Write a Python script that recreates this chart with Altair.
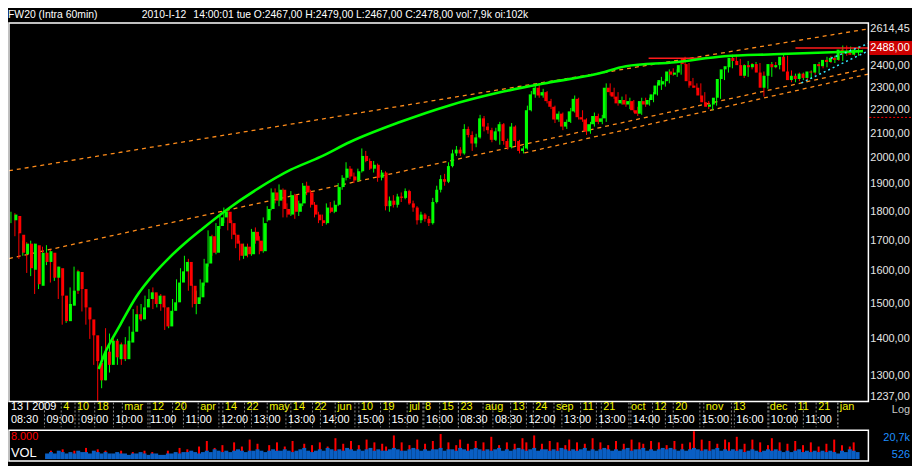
import altair as alt
import pandas as pd

# ---------------- data ----------------
opens = [1770,1785,1720,1655,1690,1605,1685,1555,1660,1630,
         1660,1580,1610,1525,1450,1495,1540,1598,1545,1490,
         1455,1410,1335,1290,1365,1330,1395,1345,1385,1345,
         1390,1420,1470,1455,1490,1515,1535,1500,1525,1490,
         1435,1480,1505,1565,1600,1630,1555,1500,1520,1565,
         1625,1715,1660,1750,1780,1800,1760,1720,1690,1650,
         1680,1655,1730,1700,1665,1770,1810,1870,1840,1880,
         1810,1790,1860,1800,1830,1895,1870,1825,1790,1770,
         1760,1815,1800,1825,1890,1925,1960,1930,1915,1950,
         2010,1990,1960,1975,1925,1945,1820,1840,1825,1855,
         1850,1875,1830,1815,1770,1790,1775,1760,1835,1880,
         1920,1910,1970,2020,2035,2020,2120,2095,2060,2085,
         2165,2130,2115,2075,2110,2140,2070,2045,2130,2070,
         2030,2040,2200,2270,2300,2265,2280,2240,2215,2160,
         2185,2130,2150,2195,2250,2170,2160,2110,2140,2175,
         2150,2165,2300,2280,2260,2230,2245,2225,2240,2200,
         2185,2240,2225,2245,2270,2310,2315,2330,2375,2360,
         2370,2435,2410,2330,2310,2300,2265,2235,2215,2225,
         2255,2340,2385,2395,2440,2425,2405,2355,2405,2395,
         2410,2370,2300,2355,2410,2395,2405,2445,2375,2335,
         2355,2340,2365,2345,2375,2370,2410,2400,2430,2420,
         2440,2430,2480,2460,2470,2455,2467]
highs = [1800,1795,1728,1700,1695,1700,1690,1675,1680,1685,
         1670,1625,1615,1530,1510,1550,1615,1605,1550,1500,
         1465,1415,1345,1380,1430,1415,1405,1400,1390,1405,
         1435,1485,1495,1500,1525,1545,1550,1530,1530,1495,
         1490,1515,1575,1610,1650,1640,1560,1540,1575,1640,
         1735,1720,1760,1790,1815,1805,1770,1725,1700,1690,
         1690,1740,1745,1715,1780,1820,1885,1885,1900,1885,
         1830,1875,1865,1840,1905,1910,1880,1835,1800,1790,
         1830,1835,1840,1905,1935,1985,1970,1945,1960,2040,
         2030,2000,1990,1980,1955,1950,1855,1860,1865,1870,
         1885,1880,1840,1820,1800,1795,1785,1850,1895,1935,
         1940,1985,2035,2050,2045,2140,2130,2110,2100,2180,
         2175,2145,2125,2125,2150,2145,2080,2145,2135,2075,
         2050,2220,2285,2320,2315,2295,2285,2250,2220,2195,
         2190,2160,2210,2265,2255,2200,2165,2150,2190,2185,
         2180,2320,2320,2300,2280,2260,2270,2255,2245,2215,
         2255,2255,2255,2280,2325,2350,2340,2385,2390,2385,
         2415,2445,2415,2345,2320,2320,2280,2240,2235,2265,
         2355,2395,2410,2455,2455,2435,2410,2425,2415,2420,
         2415,2375,2365,2420,2420,2415,2455,2450,2380,2365,
         2370,2370,2370,2380,2385,2420,2420,2445,2450,2450,
         2450,2500,2500,2495,2490,2495,2479]
lows = [1760,1715,1640,1650,1595,1585,1530,1545,1615,1620,
        1565,1570,1515,1440,1445,1490,1535,1530,1478,1440,
        1400,1330,1237,1270,1290,1310,1335,1330,1330,1340,
        1385,1415,1445,1450,1480,1505,1485,1490,1480,1425,
        1430,1470,1500,1555,1575,1540,1490,1470,1510,1555,
        1615,1650,1655,1740,1760,1735,1705,1675,1635,1640,
        1645,1650,1690,1655,1660,1765,1805,1830,1820,1780,
        1780,1785,1775,1785,1820,1860,1815,1780,1760,1750,
        1755,1795,1795,1820,1880,1915,1920,1905,1910,1945,
        1985,1955,1945,1910,1915,1805,1800,1815,1815,1835,
        1845,1825,1800,1755,1760,1765,1750,1755,1830,1870,
        1895,1905,1965,2010,2010,2015,2085,2030,2045,2080,
        2110,2100,2065,2070,2055,2055,2035,2040,2050,2020,
        2020,2035,2195,2255,2255,2255,2230,2205,2145,2150,
        2115,2120,2145,2190,2160,2150,2095,2100,2130,2140,
        2140,2150,2265,2250,2220,2225,2215,2205,2190,2175,
        2180,2215,2220,2235,2265,2290,2305,2320,2355,2350,
        2360,2405,2300,2300,2290,2250,2225,2205,2200,2220,
        2250,2335,2370,2390,2415,2400,2345,2350,2385,2385,
        2360,2260,2295,2350,2390,2385,2400,2365,2325,2325,
        2330,2335,2335,2340,2360,2365,2390,2395,2415,2415,
        2425,2425,2450,2455,2450,2450,2467]
closes = [1790,1725,1660,1690,1610,1690,1560,1660,1630,1665,
          1580,1615,1525,1450,1500,1540,1600,1545,1490,1455,
          1410,1340,1290,1365,1330,1395,1350,1385,1345,1395,
          1420,1470,1455,1490,1515,1535,1500,1525,1490,1435,
          1480,1505,1565,1600,1630,1555,1500,1520,1565,1625,
          1715,1660,1750,1780,1800,1760,1720,1690,1650,1680,
          1655,1730,1700,1665,1760,1810,1870,1840,1880,1810,
          1790,1860,1800,1830,1895,1870,1825,1790,1770,1760,
          1815,1800,1825,1890,1925,1960,1930,1915,1950,2010,
          1990,1960,1975,1925,1945,1820,1840,1825,1855,1850,
          1875,1830,1815,1770,1790,1775,1760,1835,1880,1920,
          1910,1970,2020,2035,2020,2120,2095,2060,2085,2165,
          2130,2115,2075,2110,2140,2070,2045,2130,2070,2030,
          2040,2200,2270,2300,2265,2280,2240,2215,2160,2185,
          2130,2150,2195,2250,2170,2160,2110,2140,2175,2150,
          2165,2300,2280,2260,2230,2245,2225,2240,2200,2185,
          2240,2225,2245,2270,2310,2335,2330,2375,2360,2370,
          2405,2410,2330,2310,2300,2265,2235,2215,2225,2255,
          2340,2385,2400,2440,2425,2405,2355,2405,2395,2410,
          2370,2300,2355,2410,2395,2405,2445,2375,2335,2355,
          2340,2365,2345,2375,2370,2410,2400,2430,2420,2440,
          2430,2480,2460,2470,2455,2480,2478]

# volume panel (thousands), first bar with volume
vol_start = 8
vol_blue = [4,5,4,6,5,4,5,4,6,5, 5,4,6,5,4,5,4,4,5,4, 4,3,4,4,5,4,3,4,4,3,
            3,4,4,5,4,5,5,6,5,4, 5,6,5,7,6,5,6,5,6,7, 6,5,6,6,7,6,5,6,7,6,
            6,7,6,5,6,7,8,6,5,6, 7,6,8,7,6,7,6,8,7,6, 7,6,7,8,6,7,6,6,7,8,
            7,6,6,7,8,7,6,7,6,7, 7,8,6,7,7,6,8,7,6,7, 8,7,6,7,6,7,8,6,7,6,
            7,8,7,6,7,8,6,7,7,6, 7,6,8,7,6,7,6,7,8,6, 7,6,7,8,7,6,7,6,7,8,
            6,7,7,8,6,7,6,7,8,7, 8,7,6,7,6,7,8,7,6,7, 6,7,8,6,7,6,7,6,7,5,
            6,7,6,5,6,7,6,7,6,5, 6,5,6,7,5,6,5,6,5,6, 5,6,5,4,6,5,7,6,5]
vol_red = [0,6,0,0,7,0,0,6,0,0, 8,0,0,7,0,6,0,0,0,6, 0,0,5,0,0,6,0,5,0,0,
           0,6,0,0,8,0,7,0,0,9, 0,13,0,8,0,10,0,0,12,0, 9,0,14,0,11,0,0,10,0,12,
           0,9,0,13,0,0,11,0,10,0, 12,0,9,0,15,0,11,0,13,0, 10,0,14,0,12,0,11,9,0,17,
           0,12,0,10,0,14,0,11,0,13, 0,18,0,12,0,10,14,0,11,0, 13,0,12,0,16,0,10,0,12,0,
           11,0,15,12,0,17,0,11,0,13, 0,12,0,10,14,0,12,0,11,0, 15,0,12,0,10,0,13,0,11,0,
           14,0,12,11,0,13,0,12,0,10, 0,13,0,11,0,12,20,0,14,0, 13,0,11,0,14,12,0,16,0,11,
           0,14,0,12,0,10,15,0,12,0, 11,0,13,0,10,0,12,0,9,0, 11,0,14,0,10,0,9,12,0]
vol_max_label = "20,7k"
vol_min_label = "526"
vol_scale_label = "8.000"

# channel lines (bar index, price)
chan_id = ["top", "top", "mid", "mid", "low", "low"]
chan_idx = [-0.5, 217.5, -0.5, 217.5, 130.25, 217.5]
chan_price = [1952, 2584, 1641, 2391, 2022, 2363]

# green regression curve
curve_idx = [22.25, 23.5, 27.75, 31.75, 36, 40.25, 44.25, 48.5, 54.25, 62.75, 71, 78.5,
             86, 98.5, 111, 123.5, 136, 148.5, 156, 168.5, 181, 193.5, 216]
curve_price = [1319, 1353, 1440, 1521, 1588, 1645, 1693, 1740, 1802, 1885, 1956, 2006,
               2066, 2148, 2220, 2277, 2322, 2363, 2400, 2419, 2448, 2457, 2472]

# red resistance segments
res_id = ["a", "a", "b", "b"]
res_idx = [161.75, 176.5, 199, 217.5]
res_price = [2438, 2438, 2488, 2488]

# cyan dotted lines
cyan_id = ["a", "a", "b", "b"]
cyan_idx = [200.5, 217.5, 208, 217.5]
cyan_price = [2322, 2474, 2438, 2510]

price_min = 1237.0
price_max = 2614.45
price_ticks = [2500, 2400, 2300, 2200, 2100, 2000, 1900, 1800, 1700, 1600, 1500, 1400, 1300]
last_price = 2488
alert_price = 2169

day_pos = [-0.5, 12.75, 16.25, 21.25, 28.25, 35.25, 41, 47.5, 53.75, 59.25, 65, 71, 76.5,
           82.25, 88.25, 93.75, 100.5, 104.5, 108.75, 113.5, 119.75, 126.75, 132.5, 137.75,
           144.5, 149.75, 156.75, 162.75, 168, 175.75, 182.75, 192, 199, 204.25, 209.75]
day_text = ["13 I 2009", "4", "10", "18", "mar", "12", "20", "apr", "14", "22", "may", "14",
            "22", "jun", "10", "19", "jul", "8", "15", "23", "aug", "13", "24", "sep", "11",
            "21", "oct", "12", "20", "nov", "13", "dec", "11", "21", "jan"]
time_pos = [-0.5, 8.5, 17.25, 26, 34.75, 43.75, 52.75, 61, 69.75, 78.5, 87.25, 96, 104.75,
            113.5, 122.25, 130.75, 139.75, 148.5, 157.25, 166, 174.75, 183.5, 192.25, 201, 209.75]
time_text = ["08:30", "09:00", "09:00", "10:00", "11:00", "11:00", "12:00", "13:00", "13:00",
             "14:00", "15:00", "15:00", "16:00", "08:30", "08:30", "12:00", "13:00", "13:00",
             "14:00", "15:00", "15:00", "16:00", "10:00", "11:00", ""]

header_title = "FW20 (Intra 60min)"
header_date = "2010-I-12"
header_time = "14:00:01 tue"
header_quote = "O:2467,00 H:2479,00 L:2467,00 C:2478,00 vol:7,9k oi:102k"

# ---------------- styling ----------------
W, H = 912, 458
FONT = "Liberation Sans, Arial, sans-serif"
FS = 11
GREEN, RED = "#00ff00", "#ff0000"
XS = alt.Scale(domain=[-0.5, 217.5], range=[1, 868], nice=False, zero=False)
PS = alt.Scale(type="log", domain=[price_min, price_max], range=[395, 13], nice=False)
VS = alt.Scale(domain=[0, 20.7], range=[453, 424], nice=False, zero=False)


def xq(f):
    return alt.X(f, type="quantitative", scale=XS, axis=None)


def yp(f):
    return alt.Y(f, type="quantitative", scale=PS, axis=None)


def fmt(v):
    return f"{v:.2f}".replace(".", ",")


one = pd.DataFrame({"k": [0]})

candles = pd.DataFrame({"i": list(range(len(closes))), "o": opens, "h": highs,
                        "l": lows, "c": closes})
candles["dir"] = ["up" if c >= o else "down" for o, c in zip(opens, closes)]
ccol = alt.Color("dir:N", scale=alt.Scale(domain=["up", "down"], range=[GREEN, RED]), legend=None)

layers = []

chan = pd.DataFrame({"id": chan_id, "i": chan_idx, "p": chan_price})
layers.append(alt.Chart(chan).mark_line(color="#ff8c1a", strokeWidth=1.3, strokeDash=[4, 4])
              .encode(x=xq("i"), y=yp("p"), detail="id:N"))

layers.append(alt.Chart(candles).mark_rule(strokeWidth=1)
              .encode(x=xq("i"), y=yp("l"), y2="h:Q", color=ccol))
layers.append(alt.Chart(candles).mark_bar(size=3)
              .encode(x=xq("i"), y=yp("o"), y2="c:Q", color=ccol))

res = pd.DataFrame({"id": res_id, "i": res_idx, "p": res_price})
layers.append(alt.Chart(res).mark_line(color="#ff1a1a", strokeWidth=1.5)
              .encode(x=xq("i"), y=yp("p"), detail="id:N"))

curve = pd.DataFrame({"i": curve_idx, "p": curve_price})
layers.append(alt.Chart(curve).mark_line(color=GREEN, strokeWidth=2.6, interpolate="monotone")
              .encode(x=xq("i"), y=yp("p")))

cyan = pd.DataFrame({"id": cyan_id, "i": cyan_idx, "p": cyan_price})
layers.append(alt.Chart(cyan).mark_line(color="#33e6ff", strokeWidth=1.5, strokeDash=[2, 3])
              .encode(x=xq("i"), y=yp("p"), detail="id:N"))

# frames
layers.append(alt.Chart(one).mark_rect(filled=False, stroke="white", strokeWidth=1.5)
              .encode(x=alt.value(1), x2=alt.value(868), y=alt.value(13), y2=alt.value(395)))
layers.append(alt.Chart(one).mark_rect(filled=False, stroke="white", strokeWidth=1.5)
              .encode(x=alt.value(1), x2=alt.value(868), y=alt.value(424), y2=alt.value(455)))

# volume
vol = pd.DataFrame({"i": list(range(vol_start, vol_start + len(vol_blue))),
                    "b": vol_blue, "r": vol_red})
layers.append(alt.Chart(vol).mark_bar(size=2, color=RED)
              .encode(x=xq("i"), y=alt.Y("r:Q", scale=VS, axis=None)))
layers.append(alt.Chart(vol).mark_bar(size=4, color="#0a5fc4")
              .encode(x=xq("i"), y=alt.Y("b:Q", scale=VS, axis=None)))

# right price labels
tick_df = pd.DataFrame({"p": price_ticks, "t": [fmt(v) for v in price_ticks]})
layers.append(alt.Chart(tick_df).mark_text(align="left", baseline="middle", font=FONT,
                                           fontSize=FS, color="#e6e6e6")
              .encode(x=alt.value(870), y=yp("p"), text="t:N"))
edge_df = pd.DataFrame({"p": [price_max], "t": [fmt(price_max)]})
layers.append(alt.Chart(edge_df).mark_text(align="left", baseline="middle", font=FONT,
                                           fontSize=FS, color="#e6e6e6", dy=6)
              .encode(x=alt.value(870), y=yp("p"), text="t:N"))
low_df = pd.DataFrame({"p": [price_min], "t": [fmt(price_min)]})
layers.append(alt.Chart(low_df).mark_text(align="left", baseline="middle", font=FONT,
                                          fontSize=FS, color="#e6e6e6", dy=-5)
              .encode(x=alt.value(870), y=yp("p"), text="t:N"))

# alert marker and last price box
alert_df = pd.DataFrame({"p": [alert_price]})
layers.append(alt.Chart(alert_df).mark_rule(color=RED, strokeDash=[2, 2], strokeWidth=1)
              .encode(x=alt.value(869), x2=alt.value(912), y=yp("p")))
last_df = pd.DataFrame({"p": [last_price], "t": [fmt(last_price)]})
layers.append(alt.Chart(last_df).mark_tick(orient="horizontal", thickness=14, size=44,
                                           color="#cc0000", opacity=1)
              .encode(x=alt.value(891), y=yp("p")))
layers.append(alt.Chart(last_df).mark_text(align="left", baseline="middle", font=FONT,
                                           fontSize=FS, color="white")
              .encode(x=alt.value(870), y=yp("p"), text="t:N"))

# date axis
seps = pd.DataFrame({"i": [v for v in day_pos + time_pos if v > 0]})
layers.append(alt.Chart(seps).mark_rule(color="#8c8c8c", strokeDash=[2, 2], strokeWidth=1)
              .encode(x=xq("i"), y=alt.value(396), y2=alt.value(421)))
days = pd.DataFrame({"i": day_pos, "t": day_text})
layers.append(alt.Chart(days).mark_text(align="left", baseline="middle", font=FONT,
                                        fontSize=FS, dx=2)
              .encode(x=xq("i"), y=alt.value(401), text="t:N",
                      color=alt.condition("datum.i < 0", alt.value("white"),
                                          alt.value("#f2f200"))))
times = pd.DataFrame({"i": time_pos, "t": time_text})
layers.append(alt.Chart(times).mark_text(align="left", baseline="middle", font=FONT,
                                         fontSize=FS, dx=2, color="white")
              .encode(x=alt.value(xq("i")) if False else xq("i"), y=alt.value(414), text="t:N"))

# header
for txt, xp in [(header_title, 0), (header_date, 135), (header_time, 187), (header_quote, 248)]:
    layers.append(alt.Chart(one).mark_text(align="left", baseline="middle", font=FONT,
                                           fontSize=10.5, color="white", text=txt)
                  .encode(x=alt.value(xp), y=alt.value(5)))

# panel side labels
side = [("Log", 910, 404, "#c8c8c8", "right", FS),
        (vol_max_label, 910, 432, "#1e8fff", "right", FS),
        (vol_min_label, 910, 449, "#1e8fff", "right", FS),
        (vol_scale_label, 3, 431, RED, "left", FS),
        ("VOL", 3, 447, "white", "left", 13)]
for txt, xp, ypx, colr, al, fs in side:
    layers.append(alt.Chart(one).mark_text(align=al, baseline="middle", font=FONT,
                                           fontSize=fs, color=colr, text=txt)
                  .encode(x=alt.value(xp), y=alt.value(ypx)))

chart = (alt.layer(*layers)
         .resolve_scale(x="independent", y="independent")
         .properties(width=W, height=H, padding=0,
                     autosize=alt.AutoSizeParams(type="none"))
         .configure(background="#000000")
         .configure_view(stroke=None))

chart.save("out.html", embed_options={"renderer": "svg", "actions": False})
